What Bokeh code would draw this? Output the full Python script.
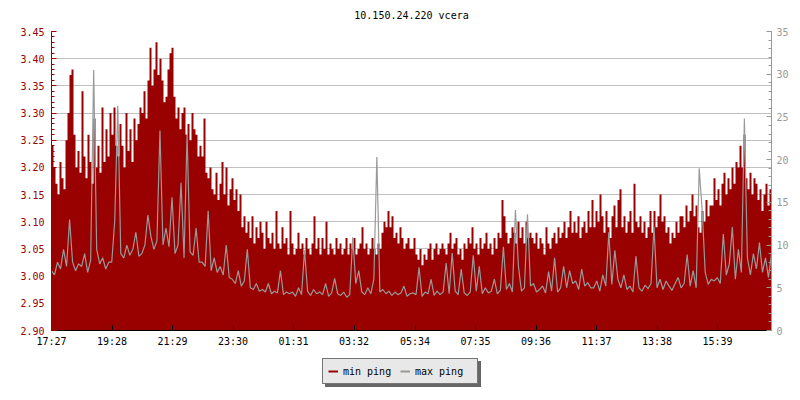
from bokeh.plotting import figure
from bokeh.layouts import column
from bokeh.models import (Range1d, LinearAxis, SingleIntervalTicker, FixedTicker,
                          NumeralTickFormatter, Legend, LegendItem, ColumnDataSource)
from bokeh.embed import file_html
from bokeh.resources import INLINE

TITLE = "10.150.24.220 vcera"
START = "17:27"
SPAN_MIN = 1440
TIME_LABELS = ["17:27", "19:28", "21:29", "23:30", "01:31", "03:32",
               "05:34", "07:35", "09:36", "11:37", "13:38", "15:39"]
LEFT_RANGE = (2.90, 3.45)
RIGHT_RANGE = (0, 35)
SERIES = ["min ping", "max ping"]

# min ping (left axis), one value every 4 minutes
min_ping = [
    3.24, 3.20, 3.17, 3.15, 3.21, 3.18, 3.16, 3.25, 3.30, 3.37, 3.38, 3.26, 3.20, 3.23, 3.19,
    3.34, 3.22, 3.18, 3.26, 3.21, 3.17, 3.29, 3.20, 3.24, 3.19, 3.31, 3.21, 3.27, 3.22, 3.30,
    3.26, 3.31, 3.24, 3.22, 3.28, 3.24, 3.20, 3.30, 3.23, 3.27, 3.21, 3.29, 3.25, 3.28, 3.31,
    3.30, 3.34, 3.29, 3.36, 3.42, 3.35, 3.38, 3.43, 3.37, 3.40, 3.36, 3.32, 3.33, 3.38, 3.41,
    3.42, 3.33, 3.29, 3.31, 3.27, 3.30, 3.31, 3.26, 3.28, 3.25, 3.30, 3.27, 3.26, 3.22, 3.24,
    3.22, 3.29, 3.19, 3.18, 3.20, 3.16, 3.15, 3.19, 3.14, 3.17, 3.21, 3.15, 3.20, 3.13, 3.16,
    3.18, 3.14, 3.16, 3.12, 3.15, 3.09, 3.11, 3.08, 3.10, 3.07, 3.11, 3.06, 3.09, 3.07, 3.10,
    3.08, 3.05, 3.10, 3.07, 3.06, 3.08, 3.05, 3.12, 3.06, 3.05, 3.09, 3.06, 3.07, 3.04, 3.12,
    3.06, 3.04, 3.05, 3.08, 3.05, 3.06, 3.04, 3.07, 3.05, 3.04, 3.06, 3.11, 3.05, 3.07, 3.04,
    3.07, 3.05, 3.10, 3.04, 3.06, 3.05, 3.04, 3.07, 3.05, 3.06, 3.04, 3.05, 3.07, 3.04, 3.06,
    3.05, 3.07, 3.04, 3.05, 3.06, 3.09, 3.05, 3.06, 3.04, 3.05, 3.07, 3.05, 3.04, 3.06, 3.05,
    3.08, 3.10, 3.09, 3.12, 3.09, 3.11, 3.07, 3.08, 3.06, 3.09, 3.07, 3.05, 3.06, 3.07, 3.05,
    3.05, 3.07, 3.04, 3.03, 3.05, 3.02, 3.04, 3.03, 3.05, 3.06, 3.03, 3.05, 3.06, 3.04, 3.05,
    3.06, 3.05, 3.04, 3.06, 3.08, 3.05, 3.06, 3.07, 3.04, 3.05, 3.03, 3.06, 3.05, 3.07, 3.06,
    3.09, 3.05, 3.06, 3.04, 3.07, 3.05, 3.06, 3.08, 3.05, 3.06, 3.04, 3.07, 3.05, 3.08, 3.07,
    3.14, 3.11, 3.08, 3.06, 3.07, 3.09, 3.08, 3.06, 3.10, 3.07, 3.09, 3.06, 3.10, 3.07, 3.08,
    3.07, 3.06, 3.08, 3.05, 3.07, 3.06, 3.04, 3.09, 3.06, 3.05, 3.07, 3.08, 3.06, 3.09, 3.07,
    3.08, 3.10, 3.07, 3.09, 3.12, 3.08, 3.10, 3.08, 3.11, 3.07, 3.09, 3.10, 3.08, 3.12, 3.09,
    3.14, 3.09, 3.12, 3.10, 3.15, 3.11, 3.08, 3.12, 3.09, 3.07, 3.11, 3.13, 3.09, 3.14, 3.16,
    3.09, 3.11, 3.08, 3.10, 3.12, 3.08, 3.17, 3.10, 3.09, 3.11, 3.08, 3.10, 3.07, 3.09, 3.12,
    3.08, 3.12, 3.09, 3.11, 3.15, 3.10, 3.11, 3.08, 3.09, 3.06, 3.08, 3.07, 3.10, 3.08, 3.11,
    3.11, 3.09, 3.13, 3.10, 3.12, 3.15, 3.11, 3.13, 3.09, 3.08, 3.12, 3.10, 3.14, 3.11, 3.13,
    3.13, 3.18, 3.14, 3.16, 3.13, 3.17, 3.19, 3.15, 3.18, 3.16, 3.20, 3.17, 3.21, 3.20, 3.24,
    3.20, 3.26, 3.18, 3.16, 3.19, 3.15, 3.18, 3.17, 3.14, 3.16, 3.12, 3.15, 3.17, 3.13, 3.16,
]

# max ping (right axis), one value every ~6 minutes
max_ping = [
    7.0, 6.5, 8.0, 7.2, 9.5, 7.5, 13.0, 8.0, 7.0, 7.8,
    7.5, 9.0, 6.8, 8.2, 30.5, 9.5, 7.8, 8.5, 7.2, 8.0,
    8.0, 12.9, 26.3, 9.0, 8.5, 10.0, 8.8, 9.5, 11.5, 8.7,
    9.0, 10.0, 13.5, 11.0, 9.5, 10.5, 23.4, 10.0, 12.0, 9.8,
    15.6, 9.0, 10.0, 17.3, 8.5, 23.0, 9.2, 8.8, 12.0, 8.0,
    8.0, 7.5, 14.0, 7.0, 8.5, 6.8, 7.5, 6.5, 10.0, 6.2,
    6.0, 5.5, 7.0, 5.2, 5.8, 9.5, 5.0, 4.8, 5.5, 4.6,
    4.8, 4.5, 5.5, 4.3, 4.6, 4.4, 7.0, 4.2, 4.5, 4.3,
    4.5, 4.0, 5.0, 4.2, 9.4, 4.6, 4.1, 4.8, 4.3, 4.5,
    4.2, 5.5, 4.0, 4.4, 6.1, 4.3, 4.1, 4.5, 3.9, 4.2,
    10.9, 5.5, 7.0, 4.5, 4.2, 5.0, 4.3, 6.0, 20.3, 4.5,
    4.8, 4.3, 4.6, 4.1, 4.5, 4.2, 4.4, 5.2, 4.0, 4.3,
    4.4, 4.2, 7.4, 4.0, 4.5, 4.3, 6.0, 4.1, 4.6, 4.2,
    4.5, 7.9, 4.3, 9.1, 4.6, 4.2, 7.2, 4.4, 4.1, 4.5,
    8.8, 4.6, 7.5, 4.3, 5.0, 4.4, 4.6, 6.0, 4.3, 4.7,
    9.8, 4.8, 5.5, 4.5, 14.1, 7.5, 4.6, 5.0, 13.6, 5.2,
    5.5, 4.5, 4.8, 5.2, 4.4, 6.9, 4.6, 8.5, 4.5, 5.0,
    7.5, 5.0, 7.0, 5.5, 5.8, 4.8, 7.2, 5.2, 5.6, 5.0,
    5.0, 5.8, 4.6, 6.5, 5.2, 11.5, 5.4, 9.4, 6.0, 5.0,
    6.5, 4.8, 5.2, 4.5, 8.7, 5.0, 4.6, 5.3, 4.9, 5.5,
    12.1, 5.0, 6.0, 4.8, 5.8, 5.2, 4.7, 5.5, 6.2, 5.0,
    5.5, 8.9, 5.2, 7.0, 5.0, 19.0, 14.0, 6.8, 5.4, 6.0,
    5.8, 6.2, 5.5, 11.3, 6.5, 7.8, 12.1, 6.0, 9.5, 6.8,
    24.8, 8.5, 6.5, 9.0, 7.2, 10.3, 6.8, 8.5, 6.2, 9.0,
]

RED = "#990000"
GRAY = "#999999"
SHADOW = "#666666"
FONT = "DejaVu Sans Mono"
FSIZE = "10px"


def to_minutes(s):
    h, m = map(int, s.split(":"))
    sh, sm = map(int, START.split(":"))
    return ((h * 60 + m) - (sh * 60 + sm)) % 1440


n_min = len(min_ping)
step_min = SPAN_MIN / n_min
src_min = ColumnDataSource(dict(
    t=[i * step_min for i in range(n_min)] + [SPAN_MIN],
    v=min_ping + [min_ping[-1]],
    base=[LEFT_RANGE[0]] * (n_min + 1),
))
n_max = len(max_ping)
src_max = ColumnDataSource(dict(
    t=[i * SPAN_MIN / (n_max - 1) for i in range(n_max)],
    v=max_ping,
))

p = figure(frame_width=720, frame_height=299,
           x_range=Range1d(0, SPAN_MIN), y_range=Range1d(*LEFT_RANGE),
           output_backend="svg", toolbar_location=None,
           min_border_left=51, min_border_right=21, min_border_top=31,
           min_border_bottom=25, background_fill_color="white",
           border_fill_color="white")
p.outline_line_color = None
p.extra_y_ranges = {"right": Range1d(*RIGHT_RANGE)}

p.title.text = TITLE
p.title.align = "center"
p.title.vertical_align = "top"
p.title.text_font = FONT
p.title.text_font_size = FSIZE
p.title.text_font_style = "normal"
p.title.text_color = "black"
p.title.standoff = 18

p.xgrid.visible = False
p.ygrid.grid_line_color = "#c0c0c0"
p.ygrid.grid_line_width = 1

p.varea_step(x="t", y1="base", y2="v", step_mode="after", source=src_min,
             fill_color=RED)
p.line(x="t", y="v", source=src_max, y_range_name="right",
       line_color=GRAY, line_width=1.2)

# left axis
la = p.yaxis[0]
la.ticker = SingleIntervalTicker(interval=0.05, num_minor_ticks=5)
la.formatter = NumeralTickFormatter(format="0.00")
p.ygrid.ticker = la.ticker
la.axis_line_color = RED
la.major_tick_line_color = RED
la.minor_tick_line_color = RED
la.major_label_text_color = RED
la.major_tick_in = 5
la.major_tick_out = 0
la.minor_tick_in = 3
la.minor_tick_out = 0
la.major_label_text_font = FONT
la.major_label_text_font_size = FSIZE
la.major_label_standoff = 7

# right axis
ra = LinearAxis(y_range_name="right",
                ticker=SingleIntervalTicker(interval=5, num_minor_ticks=5))
ra.axis_line_color = GRAY
ra.major_tick_line_color = GRAY
ra.minor_tick_line_color = GRAY
ra.major_label_text_color = GRAY
ra.major_tick_in = 5
ra.major_tick_out = 0
ra.minor_tick_in = 3
ra.minor_tick_out = 0
ra.major_label_text_font = FONT
ra.major_label_text_font_size = FSIZE
ra.major_label_standoff = 5
p.add_layout(ra, "right")

# bottom axis
ba = p.xaxis[0]
ticks = [to_minutes(s) for s in TIME_LABELS]
ba.ticker = FixedTicker(ticks=ticks)
ba.major_label_overrides = {tk: s for tk, s in zip(ticks, TIME_LABELS)}
ba.axis_line_color = "black"
ba.major_tick_line_color = "black"
ba.major_tick_in = 5
ba.major_tick_out = 0
ba.minor_tick_line_color = None
ba.major_label_text_font = FONT
ba.major_label_text_font_size = FSIZE
ba.major_label_text_color = "black"
ba.major_label_standoff = 5

# ---- legend strip: a small figure holding only the legend
lg = figure(frame_width=792, frame_height=37,
            x_range=Range1d(0, 1), y_range=Range1d(0, 1),
            output_backend="svg", toolbar_location=None,
            x_axis_location=None, y_axis_location=None,
            min_border_left=0, min_border_right=0, min_border_top=0,
            min_border_bottom=0, background_fill_color="white",
            border_fill_color="white")
lg.outline_line_color = None
lg.grid.visible = False

nan = float("nan")
sw_min = lg.line(x=[nan], y=[nan], line_color=RED, line_width=2)
sw_max = lg.line(x=[nan], y=[nan], line_color=GRAY, line_width=2)

common = dict(orientation="horizontal", border_line_width=1,
              label_text_font=FONT, label_text_font_size=FSIZE,
              glyph_width=10, glyph_height=14, label_height=14, label_width=57,
              label_standoff=5, spacing=0, padding=5, margin=0,
              background_fill_alpha=1.0)

shadow = Legend(
    items=[LegendItem(label=" ", renderers=[sw_min]),
           LegendItem(label=" ", renderers=[sw_max])],
    location=(325, 5), background_fill_color=SHADOW,
    border_line_color=SHADOW, label_text_color=SHADOW, **common)
legend = Legend(
    items=[LegendItem(label=SERIES[0], renderers=[sw_min]),
           LegendItem(label=SERIES[1], renderers=[sw_max])],
    location=(322, 8), background_fill_color="#e8e8e8",
    border_line_color="black", label_text_color="black", **common)
lg.add_layout(shadow, "center")
lg.add_layout(legend, "center")

layout = column(p, lg, spacing=0)
open("out.html", "w").write(file_html(layout, INLINE))
